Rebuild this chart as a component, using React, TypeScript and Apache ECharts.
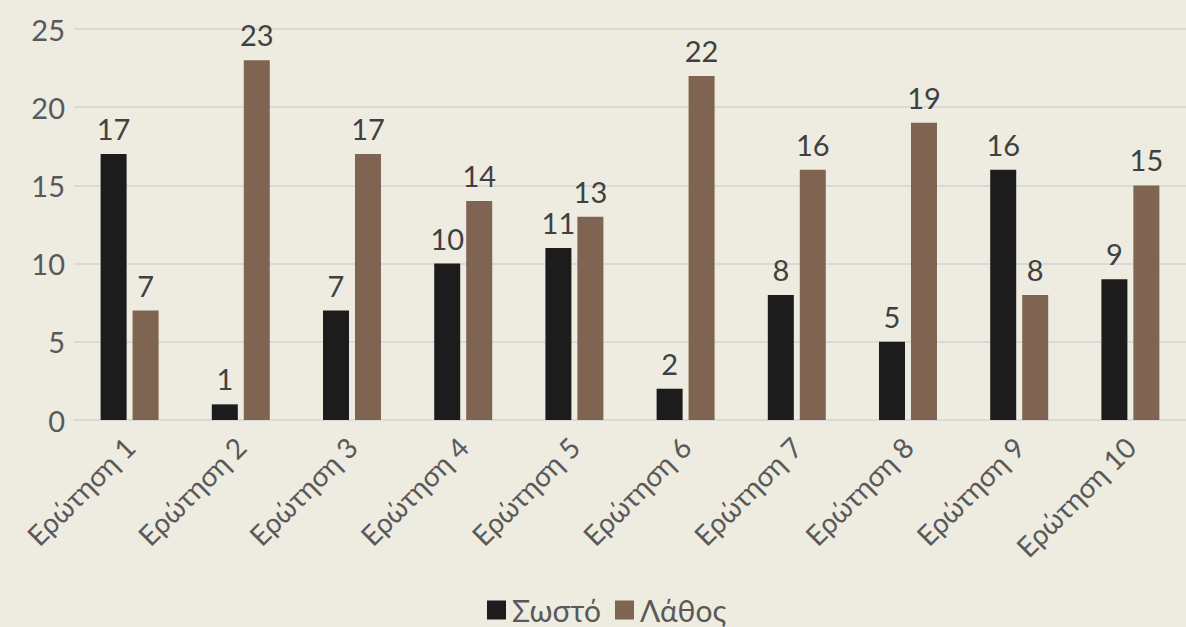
import React, { useEffect, useRef } from "react";
import * as echarts from "echarts";

const categories = ["Ερώτηση 1", "Ερώτηση 2", "Ερώτηση 3", "Ερώτηση 4", "Ερώτηση 5", "Ερώτηση 6", "Ερώτηση 7", "Ερώτηση 8", "Ερώτηση 9", "Ερώτηση 10"];
const correct = [17, 1, 7, 10, 11, 2, 8, 5, 16, 9];
const wrong = [7, 23, 17, 14, 13, 22, 16, 19, 8, 15];
const seriesNames = ["Σωστό", "Λάθος"];

const FONT = "Lato";
const TEXT = "#595959";

export default function App() {
  const ref = useRef<HTMLDivElement>(null);
  useEffect(() => {
    const chart = echarts.init(ref.current!, null, { renderer: "svg" });
    chart.setOption({
      animation: false,
      backgroundColor: "#EEEBE1",
      grid: { left: 74, top: 29, width: 1130, height: 391, containLabel: false },
      legend: {
        top: 594,
        left: 487,
        padding: 0,
        itemWidth: 19,
        itemHeight: 19,
        itemGap: 14,
        icon: "rect",
        textStyle: { fontFamily: FONT, fontSize: 30, lineHeight: 32, color: TEXT, padding: [0, 0, 0, 1] },
        data: seriesNames,
      },
      xAxis: {
        type: "category",
        data: categories,
        axisLine: { lineStyle: { color: "#D9D9D9", width: 2 } },
        axisTick: { show: false },
        axisLabel: { rotate: 45, fontFamily: FONT, fontSize: 28, color: TEXT, margin: 22, interval: 0 },
      },
      yAxis: {
        type: "value",
        min: 0,
        max: 25,
        interval: 5,
        axisLine: { show: false },
        axisTick: { show: false },
        splitLine: { lineStyle: { color: "#D9D9D9", width: 2 } },
        axisLabel: { fontFamily: FONT, fontSize: 29, color: TEXT, margin: 9 },
      },
      series: [
        {
          name: seriesNames[0],
          type: "bar",
          data: correct,
          barWidth: 26,
          barGap: "23%",
          itemStyle: { color: "#1C1C1C" },
          label: { show: true, position: "top", distance: 11, fontFamily: FONT, fontSize: 29, color: "#404040" },
        },
        {
          name: seriesNames[1],
          type: "bar",
          data: wrong,
          barWidth: 26,
          barGap: "23%",
          itemStyle: { color: "#7F6551" },
          label: { show: true, position: "top", distance: 11, fontFamily: FONT, fontSize: 29, color: "#404040" },
        },
      ],
    });
    return () => chart.dispose();
  }, []);
  return <div ref={ref} style={{ position: "fixed", left: 0, top: 0, width: 1186, height: 627 }} />;
}
